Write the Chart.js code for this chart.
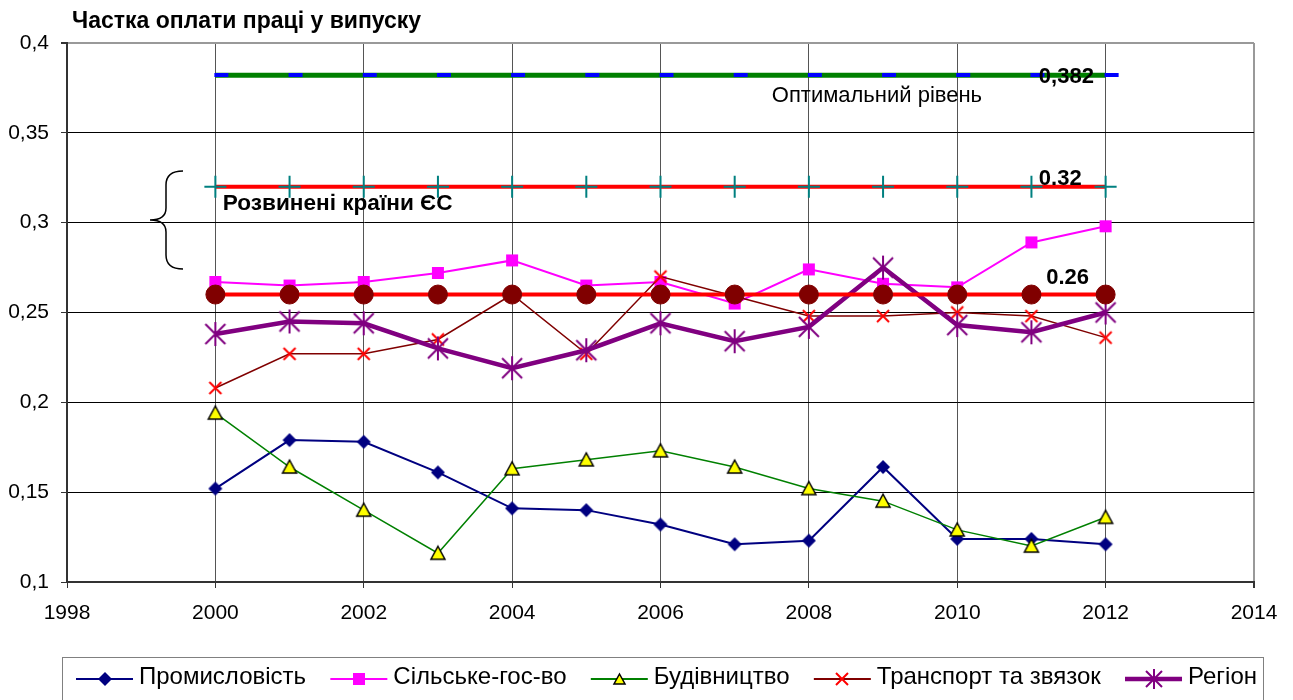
<!DOCTYPE html>
<html lang="uk">
<head>
<meta charset="UTF-8">
<title>Частка оплати праці у випуску</title>
<script src="https://cdn.jsdelivr.net/npm/chart.js"></script>
<style>
    html, body { margin: 0; padding: 0; background: #fff; }
    #wrap { width: 1293px; height: 700px; }
</style>
</head>
<body>
<div id="wrap"><canvas id="chart" width="1293" height="700"></canvas></div>
<script>
// data
const years = [2000, 2001, 2002, 2003, 2004, 2005, 2006, 2007, 2008, 2009, 2010, 2011, 2012];
const industry     = [0.152, 0.179, 0.178, 0.161, 0.141, 0.140, 0.132, 0.121, 0.123, 0.164, 0.124, 0.124, 0.121];
const agriculture  = [0.267, 0.265, 0.267, 0.272, 0.279, 0.265, 0.267, 0.255, 0.274, 0.266, 0.264, 0.289, 0.298];
const construction = [0.194, 0.164, 0.140, 0.116, 0.163, 0.168, 0.173, 0.164, 0.152, 0.145, 0.129, 0.120, 0.136];
const transport    = [0.208, 0.227, 0.227, 0.235, 0.260, 0.227, 0.270, 0.259, 0.248, 0.248, 0.250, 0.248, 0.236];
const region       = [0.238, 0.245, 0.244, 0.230, 0.219, 0.229, 0.244, 0.234, 0.242, 0.275, 0.243, 0.239, 0.250];

// reference levels
const optimalLevel = [0.382, 0.382, 0.382, 0.382, 0.382, 0.382, 0.382, 0.382, 0.382, 0.382, 0.382, 0.382, 0.382];
const euLevel      = [0.32, 0.32, 0.32, 0.32, 0.32, 0.32, 0.32, 0.32, 0.32, 0.32, 0.32, 0.32, 0.32];
const lowLevel     = [0.26, 0.26, 0.26, 0.26, 0.26, 0.26, 0.26, 0.26, 0.26, 0.26, 0.26, 0.26, 0.26];

const seriesNames = ['Промисловість', 'Сільське-гос-во', 'Будівництво', 'Транспорт та звязок', 'Регіон'];
const yTicks = [0.1, 0.15, 0.2, 0.25, 0.3, 0.35, 0.4];
const yTickLabels = ['0,1', '0,15', '0,2', '0,25', '0,3', '0,35', '0,4'];
const titleText = 'Частка оплати праці у випуску';
const optimalValueText = '0,382';
const optimalText = 'Оптимальний рівень';
const euValueText = '0.32';
const euText = 'Розвинені країни ЄС';
const lowValueText = '0.26';

const FONT = "'Liberation Sans', Arial, sans-serif";

// marker images (Excel-like)
function makeMarker(kind, color, fill, size) {
    const sizes = { diamond: 16, square: 14, triangle: 18, xcross: 16, asterisk: 26, dash: 30 };
    const s = size || sizes[kind];
    const c = document.createElement('canvas');
    c.width = s;
    c.height = kind === 'dash' ? 4 : s;
    const g = c.getContext('2d');
    const m = s / 2;
    g.strokeStyle = color;
    g.fillStyle = fill || color;
    g.lineWidth = 2;
    g.beginPath();
    if (kind === 'diamond') {
        g.moveTo(m, 1); g.lineTo(s - 1, m); g.lineTo(m, s - 1); g.lineTo(1, m); g.closePath();
        g.fill();
    } else if (kind === 'square') {
        g.fillRect(1, 1, s - 2, s - 2);
    } else if (kind === 'triangle') {
        g.lineWidth = 1.5;
        g.moveTo(m, 2); g.lineTo(s - 2, s - 3); g.lineTo(2, s - 3); g.closePath();
        g.fill(); g.stroke();
    } else if (kind === 'xcross') {
        g.moveTo(2, 2); g.lineTo(s - 2, s - 2); g.moveTo(s - 2, 2); g.lineTo(2, s - 2);
        g.stroke();
    } else if (kind === 'asterisk') {
        g.moveTo(m, 1); g.lineTo(m, s - 1);
        g.moveTo(3, 3); g.lineTo(s - 3, s - 3); g.moveTo(s - 3, 3); g.lineTo(3, s - 3);
        g.stroke();
    } else if (kind === 'dash') {
        g.fillRect(m - 1, 0, 14, 4);
    }
    return c;
}

const markers = [
    makeMarker('diamond', '#000080'),
    makeMarker('square', '#FF00FF'),
    makeMarker('triangle', '#000000', '#FFFF00'),
    makeMarker('xcross', '#FF0000'),
    makeMarker('asterisk', '#800080')
];
const legendMarkers = [
    makeMarker('diamond', '#000080'),
    makeMarker('square', '#FF00FF'),
    makeMarker('triangle', '#000000', '#FFFF00', 15),
    makeMarker('xcross', '#FF0000'),
    makeMarker('asterisk', '#800080', null, 22)
];
const blueDash = makeMarker('dash', '#0000FF');
const lineColors = ['#000080', '#FF00FF', '#008000', '#800000', '#800080'];
const lineWidths = [2, 2, 1.5, 1.5, 4.5];
const legendLineWidths = [2, 2, 2, 2, 4.5];

function pts(arr) {
    return years.map((yr, i) => ({ x: yr, y: arr[i] }));
}

function seriesDataset(i, arr) {
    return {
        label: seriesNames[i],
        data: pts(arr),
        borderColor: lineColors[i],
        borderWidth: lineWidths[i],
        pointStyle: markers[i],
        pointRadius: 8,
        tension: 0
    };
}

const annotations = {
    id: 'annotations',
    afterDatasetsDraw(chart) {
        const { ctx, scales: { x, y } } = chart;
        ctx.save();
        // brace
        ctx.strokeStyle = '#000';
        ctx.lineWidth = 1.5;
        ctx.beginPath();
        ctx.moveTo(183, 171);
        ctx.quadraticCurveTo(166, 171, 166, 185);
        ctx.lineTo(166, 208);
        ctx.quadraticCurveTo(166, 220, 150, 220);
        ctx.quadraticCurveTo(166, 220, 166, 232);
        ctx.lineTo(166, 255);
        ctx.quadraticCurveTo(166, 269, 183, 269);
        ctx.stroke();

        ctx.fillStyle = '#000';
        ctx.textBaseline = 'middle';
        ctx.textAlign = 'left';
        ctx.font = 'bold 22px ' + FONT;
        ctx.fillText(optimalValueText, x.getPixelForValue(2011.1), y.getPixelForValue(optimalLevel[0]) + 2);
        ctx.fillText(euValueText, x.getPixelForValue(2011.1), y.getPixelForValue(euLevel[0]) - 8);
        ctx.fillText(lowValueText, x.getPixelForValue(2011.2), y.getPixelForValue(lowLevel[0]) - 17);
        ctx.font = 'bold 22.6px ' + FONT;
        ctx.fillText(euText, x.getPixelForValue(2000.1), y.getPixelForValue(euLevel[0]) + 17);
        ctx.font = '22px ' + FONT;
        ctx.fillText(optimalText, x.getPixelForValue(2007.5), y.getPixelForValue(optimalLevel[0]) + 21);

        // title
        ctx.font = 'bold 23px ' + FONT;
        ctx.fillText(titleText, 72, 22);
        ctx.restore();
    }
};

const legendBox = {
    id: 'legendBox',
    afterDraw(chart) {
        const ctx = chart.ctx;
        ctx.save();
        ctx.strokeStyle = '#808080';
        ctx.lineWidth = 1;
        ctx.strokeRect(62.5, 657.5, 1201, 60);
        ctx.font = '24px ' + FONT;
        const widths = seriesNames.map(n => ctx.measureText(n).width);
        const lineLen = 57, textGap = 6, start = 76, end = 1257;
        const total = widths.reduce((a, b) => a + b, 0) + seriesNames.length * (lineLen + textGap);
        const gap = (end - start - total) / (seriesNames.length - 1);
        let x = start;
        seriesNames.forEach((name, i) => {
            ctx.strokeStyle = lineColors[i];
            ctx.lineWidth = legendLineWidths[i];
            ctx.beginPath();
            ctx.moveTo(x, 679);
            ctx.lineTo(x + lineLen, 679);
            ctx.stroke();
            const m = legendMarkers[i];
            ctx.drawImage(m, Math.round(x + lineLen / 2 - m.width / 2), Math.round(679 - m.height / 2));
            ctx.fillStyle = '#000';
            ctx.textBaseline = 'middle';
            ctx.fillText(name, x + lineLen + textGap, 677);
            x += lineLen + textGap + widths[i] + gap;
        });
        ctx.restore();
    }
};

new Chart(document.getElementById('chart'), {
    type: 'line',
    data: {
        datasets: [
            {
                label: 'lowLevel',
                data: pts(lowLevel),
                borderColor: '#FF0000',
                borderWidth: 4,
                pointStyle: 'circle',
                pointRadius: 9.5,
                pointBackgroundColor: '#800000',
                pointBorderColor: '#800000',
                pointBorderWidth: 1
            },
            {
                label: 'euLevel',
                data: pts(euLevel),
                borderColor: '#FF0000',
                borderWidth: 4,
                pointStyle: 'cross',
                pointRadius: 11,
                pointBorderColor: '#008080',
                pointBorderWidth: 2
            },
            {
                label: 'optimalLevel',
                data: pts(optimalLevel),
                borderColor: '#008000',
                borderWidth: 5,
                pointStyle: blueDash,
                pointRadius: 8
            },
            seriesDataset(4, region),
            seriesDataset(3, transport),
            seriesDataset(2, construction),
            seriesDataset(1, agriculture),
            seriesDataset(0, industry)
        ]
    },
    options: {
        responsive: false,
        animation: false,
        events: [],
        layout: { padding: { top: 43, right: 39, left: 0, bottom: 0 } },
        plugins: { legend: { display: false }, tooltip: { enabled: false } },
        scales: {
            x: {
                type: 'linear',
                min: 1998,
                max: 2014,
                afterFit: s => { s.height = 118; },
                ticks: {
                    stepSize: 2,
                    maxRotation: 0,
                    color: '#000',
                    padding: 13,
                    font: { family: FONT, size: 21 },
                    callback: v => String(v)
                },
                grid: {
                    color: c => c.tick && c.tick.value === 2014 ? '#999' : '#555',
                    lineWidth: c => c.tick && c.tick.value === 2014 ? 2 : 1,
                    tickColor: '#333',
                    tickLength: 6
                },
                border: { color: '#333', width: 2 }
            },
            y: {
                min: 0.1,
                max: 0.4,
                afterFit: s => { s.width = 67; },
                ticks: {
                    stepSize: 0.05,
                    color: '#000',
                    padding: 12,
                    font: { family: FONT, size: 21 },
                    callback: v => {
                        const i = yTicks.findIndex(t => Math.abs(t - v) < 1e-6);
                        return i >= 0 ? yTickLabels[i] : '';
                    }
                },
                grid: {
                    color: c => c.tick && Math.abs(c.tick.value - 0.4) < 1e-6 ? '#999' : '#000',
                    lineWidth: c => c.tick && Math.abs(c.tick.value - 0.4) < 1e-6 ? 2 : 1,
                    tickColor: '#333',
                    tickLength: 6
                },
                border: { color: '#333', width: 2 }
            }
        }
    },
    plugins: [annotations, legendBox]
});
</script>
</body>
</html>
